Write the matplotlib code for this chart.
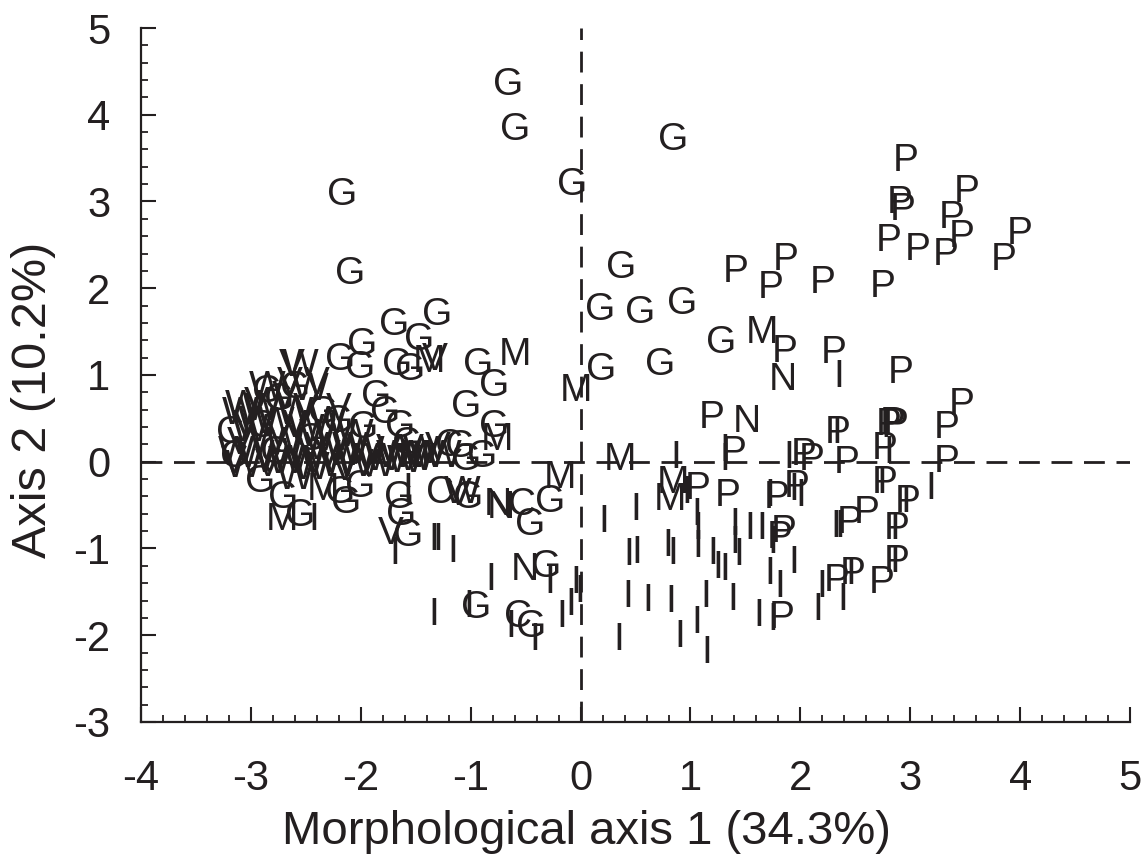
import matplotlib
matplotlib.use("Agg")
import matplotlib.pyplot as plt
from matplotlib.ticker import MultipleLocator

INK = "#231f20"
plt.rcParams['font.family'] = ['Liberation Sans', 'DejaVu Sans']
plt.rcParams['axes.unicode_minus'] = False

# ---- data: PCA scores, grouped by letter code ----
G_x = [-0.66, -0.60, 0.84, -0.08, -2.17, -2.10, 0.37, 0.18, 0.54, 0.92, 1.28, 0.19, 0.72,
       -1.31, -1.70, -1.99, -2.19, -2.01, -1.47, -1.67, -1.55, -0.93, -0.79, -1.04, -1.86,
       -1.78, -1.98, -1.64, -2.21, -2.74, -2.34, -1.58, -1.10, -1.04, -0.79, -2.78, -2.92,
       -2.71, -2.55, -2.19, -2.13, -2.01, -1.65, -1.02, -1.63, -1.57, -0.28, -0.46, -0.31,
       -0.95, -0.45, -0.90, -2.45, -2.85, -2.60]
G_y = [4.34, 3.82, 3.71, 3.19, 3.08, 2.17, 2.23, 1.75, 1.71, 1.82, 1.37, 1.06, 1.12,
       1.69, 1.58, 1.35, 1.17, 1.08, 1.40, 1.12, 1.06, 1.12, 0.87, 0.63, 0.75,
       0.56, 0.39, 0.40, 0.46, 0.71, 0.56, 0.21, 0.17, 0.02, 0.40, 0.10, -0.23,
       -0.42, -0.63, -0.36, -0.48, -0.29, -0.42, -0.42, -0.61, -0.86, -0.46, -0.73, -1.21,
       -1.69, -1.90, 0.05, 0.25, 0.80, 0.85]

C_x = [-3.19, -1.28, -0.57, -0.53, -1.20, -3.15, -2.90]
C_y = [0.33, -0.36, -1.79, -0.50, 0.18, 0.05, 0.40]

V_x = [-2.63, -2.95, -2.69, -3.16, -1.73, -1.11, -2.40, -1.30, -2.30, -1.95, -2.60, -1.33,
       -2.85, -2.50, -3.05, -3.10, -2.75, -2.40, -2.15, -1.75, -2.65, -2.20, -1.55]
V_y = [1.10, 0.67, 0.73, -0.02, -0.83, -0.38, 0.90, 0.15, 0.05, 0.02, 0.40, 1.17,
       -0.05, 0.60, 0.40, 0.20, 0.30, 0.15, -0.10, 0.12, 0.90, 0.60, 0.12]

W_x = [-2.55, -3.07, -2.46, -3.01, -2.77, -3.07, -2.68, -2.50, -2.20, -2.40, -1.80, -1.50,
       -2.85, -2.10, -1.08, -3.13, -2.60, -2.35, -2.05, -1.70, -2.90, -2.25, -2.70, -1.40,
       -2.95, -2.80, -2.55, -2.45, -2.15, -1.95, -1.85, -1.60, -1.45, -1.25, -2.95, -2.60,
       -2.85, -2.30, -2.05, -3.10, -2.50]
W_y = [1.10, 0.63, 0.83, 0.35, 0.44, -0.06, -0.02, 0.00, 0.00, 0.30, 0.02, 0.02,
       0.20, 0.15, -0.36, 0.10, -0.20, -0.05, -0.05, 0.05, 0.60, 0.25, 0.20, 0.05,
       0.05, 0.00, 0.08, -0.08, 0.08, 0.10, -0.05, 0.00, 0.10, 0.05, 0.45, 0.55,
       0.85, 0.45, 0.30, 0.55, 0.35]

M_x = [-0.60, -0.04, 1.65, 0.36, 0.84, 0.81, -0.19, -0.76, -1.52, -2.72, -2.34, -1.38]
M_y = [1.23, 0.81, 1.48, 0.02, -0.25, -0.44, -0.19, 0.25, 0.06, -0.67, -0.33, 1.15]

N_x = [1.84, 1.51, -0.75, -0.51, -0.73]
N_y = [0.94, 0.46, -0.50, -1.25, -0.53]

I_x = [2.35, 2.33, 1.31, 0.87, 1.89, 2.78, 2.80, 3.19, 2.74, 2.96, 2.32, 2.36, 2.86, 2.86,
       2.46, 2.19, 2.16, 2.39, 1.94, 1.72, 1.75, 1.94, 1.72, 1.81, 1.75, 0.97, 2.00, 0.21,
       0.50, 1.06, 1.07, 1.40, 1.54, 1.65, 1.40, 1.44, 0.44, 0.51, 0.79, 0.84, 1.07, 1.20,
       1.25, 1.31, 0.43, 0.61, 0.82, 1.14, 1.38, 1.62, 0.35, 0.90, 1.06, 1.15,
       -1.57, -1.69, -1.34, -1.30, -1.16, -0.82, -0.28, -1.34, -1.02, -0.64, -0.42, -0.17,
       -0.09, -0.01, -0.04, -2.43, 1.31]
I_y = [0.98, 0.33, 0.02, 0.04, 0.04, 0.40, 0.10, -0.31, -0.25, -0.46, -0.75, -0.75, -0.77, -1.15,
       -1.29, -1.44, -1.71, -1.59, -0.33, -0.40, -0.94, -1.17, -1.29, -1.44, -1.82, -0.36, -0.40, -0.69,
       -0.56, -0.61, -0.77, -0.73, -0.77, -0.77, -0.94, -1.08, -1.08, -1.05, -0.97, -1.06, -0.98, -1.06,
       -1.23, -1.25, -1.56, -1.61, -1.62, -1.56, -1.59, -1.78, -2.05, -2.02, -1.86, -2.21,
       -0.33, -1.06, -0.90, -0.90, -1.04, -1.36, -1.40, -1.77, -1.67, -1.90, -2.05, -1.79,
       -1.65, -1.50, -1.40, -0.67, 0.12]

P_x = [2.96, 2.90, 2.93, 3.51, 3.38, 3.47, 2.80, 3.07, 3.32, 4.00, 3.85, 1.41, 1.87, 1.73,
       2.20, 2.75, 1.86, 2.30, 2.91, 1.19, 2.34, 2.80, 2.84, 2.87, 3.47, 3.33, 3.33, 1.39,
       2.03, 2.42, 2.77, 2.77, 2.98, 2.60, 2.45, 2.88, 2.88, 2.74, 2.48, 2.33, 1.07, 1.34,
       1.78, 1.97, 1.85, 1.81, 1.83, 2.10]
P_y = [3.47, 2.98, 2.90, 3.11, 2.81, 2.59, 2.54, 2.44, 2.38, 2.63, 2.33, 2.19, 2.33, 2.00,
       2.06, 2.02, 1.27, 1.25, 1.02, 0.50, 0.33, 0.42, 0.44, 0.42, 0.65, 0.39, 0.00, 0.10,
       0.08, -0.02, 0.15, -0.25, -0.46, -0.59, -0.71, -0.77, -1.15, -1.40, -1.29, -1.38, -0.31, -0.40,
       -0.42, -0.29, -0.81, -0.88, -1.80, 0.02]

groups = [("G", G_x, G_y), ("C", C_x, C_y), ("V", V_x, V_y), ("W", W_x, W_y),
          ("M", M_x, M_y), ("N", N_x, N_y), ("I", I_x, I_y), ("P", P_x, P_y)]

x_ticks = [-4, -3, -2, -1, 0, 1, 2, 3, 4, 5]
y_ticks = [-3, -2, -1, 0, 1, 2, 3, 4, 5]
x_label = "Morphological axis 1 (34.3%)"
y_label = "Axis 2 (10.2%)"

fig = plt.figure(figsize=(11.44, 8.59), dpi=100)
ax = fig.add_axes([0.1233, 0.1595, 0.8645, 0.8079])
ax.set_xlim(-4, 5)
ax.set_ylim(-3, 5)

dash = (0, (7.5, 4.2))
ax.axhline(0, color=INK, lw=2.0, ls=dash, zorder=1)
ax.axvline(0, color=INK, lw=2.0, ls=dash, zorder=1)

for letter, xs, ys in groups:
    for x, y in zip(xs, ys):
        ax.text(x, y, letter, ha="center", va="center", fontsize=28,
                color=INK, zorder=3)

for s in ["top", "right"]:
    ax.spines[s].set_visible(False)
for s in ["left", "bottom"]:
    ax.spines[s].set_linewidth(1.6)
    ax.spines[s].set_color(INK)

ax.set_xticks(x_ticks)
ax.set_yticks(y_ticks)
ax.set_xticklabels([str(t) for t in x_ticks])
ax.set_yticklabels([str(t) for t in y_ticks])
ax.xaxis.set_minor_locator(MultipleLocator(0.2))
ax.yaxis.set_minor_locator(MultipleLocator(0.2))
ax.tick_params(which="major", direction="in", length=10.5, width=1.5, color=INK,
               labelsize=30, labelcolor=INK)
ax.tick_params(axis="x", which="major", pad=27)
ax.tick_params(axis="y", which="major", pad=22)
ax.tick_params(which="minor", direction="in", length=5, width=1.3, color=INK)

ax.set_xlabel(x_label, fontsize=34, color=INK, va="center")
ax.set_ylabel(y_label, fontsize=35, color=INK, va="center")
ax.xaxis.set_label_coords(0.4505, -0.158)
ax.yaxis.set_label_coords(-0.1087, 0.464)

fig.savefig("out.png", dpi=100)
